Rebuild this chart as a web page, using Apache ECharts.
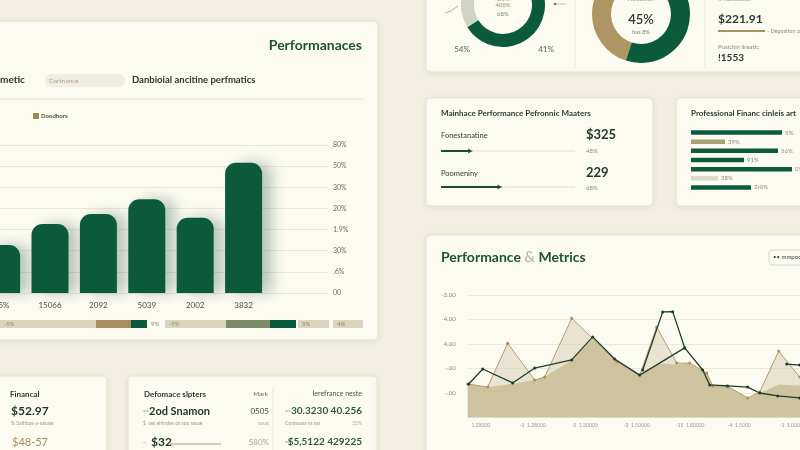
<!DOCTYPE html>
<html><head><meta charset="utf-8">
<script src="https://cdn.jsdelivr.net/npm/echarts@6/dist/echarts.min.js"></script>
<style>html,body{margin:0;padding:0;background:#f3f0e2}#c{width:800px;height:450px}</style>
</head><body><div id="c"></div>
<script>
// ---- column chart (left card)
const barCategories = ['05%', '15066', '2092', '5039', '2002', '3832'];
const barValues = [2.27, 3.26, 3.74, 4.43, 3.56, 6.16];
const barAxisLabels = ['00', '.6%', '30%', '1.9%', '20%', '30%', '50%', '80%'];
// ---- strip under the column chart
const stripValues = [96, 35, 16, 18, 61, 44, 26, 2, 31, 4, 30];
const stripLabels = ['-5%', '', '', '9%', '-9%', '', '', '', '5%', '', '4%'];
// ---- donuts
const donutA = [30, 70];
const donutB = [45, 55];
// ---- horizontal bars
const hbarValues = [91, 34, 87, 53, 101, 27, 60];
const hbarLabels = ['5%', '39%', '56%', '91%', '0%', '38%', '2r0%'];
// ---- progress rows
const progressValues = [22, 44];
// ---- line / area chart
const peakSeries = [[0,1.37],[2.0,1.24],[4.0,3.03],[6.7,1.53],[7.7,1.65],[10.4,4.05],[14.9,2.28],[17.2,1.73],[18.9,3.69],[20.9,2.22],[22.2,2.22],[23.9,1.82],[24.5,1.29],[25.9,1.29],[28.0,0.80],[29.2,1.04],[31.1,2.71],[33.2,1.65],[36.2,1.2]];
const baseSeries = [[0,1.37],[2.0,1.24],[4.5,1.38],[6.7,1.53],[7.7,1.65],[10.4,2.35],[12.5,3.2],[14.7,2.39],[17.2,1.73],[19.3,2.2],[20.9,2.15],[22.2,2.2],[23.9,1.82],[24.5,1.29],[25.9,1.29],[28.0,0.80],[29.2,1.0],[31.1,1.35],[33.2,1.3],[36.2,1.2]];
const trendSeries = [[0.1,1.37],[1.5,1.98],[4.5,1.41],[6.7,2.02],[10.4,2.35],[12.5,3.29],[14.7,2.39],[17.2,1.73],[21.7,2.84],[23.5,1.94],[24.2,1.33],[26.0,1.29],[28.0,1.24],[29.2,1.0],[31.0,0.88],[33.2,0.80],[36.2,0.7]];
const spikeSeries = [[17.5,1.94],[19.5,4.31],[20.5,4.32],[21.7,2.84]];
const tailSeries = [[31.9,2.18],[33.2,2.14],[36.2,2.1]];
const lineYLabels = ['', '-.00', '-.00', '4.00', '-4.00', '-3.00'];
const lineXLabels = ['   1.28000', '-1  1.28000', '-5  1.50000', '-3  1.50000', '-15  1.80000', '-4  1.5000', '-1  1.0000'];

const GREEN = '#0c5a3c', FONT = 'Lato';
const stripColors = ['#dcd5bd', '#a88f5e', GREEN, 'rgba(0,0,0,0)', '#dcd5bd', '#7b8b6a', GREEN, 'rgba(0,0,0,0)', '#dcd5bd', 'rgba(0,0,0,0)', '#dcd5bd'];
const hbarColors = [GREEN, '#aaa070', GREEN, GREEN, GREEN, '#dcdac4', GREEN];

function card(x, y, w, h) {
  return { type: 'rect', shape: { x, y, width: w, height: h, r: 4 }, z: -5,
    style: { fill: '#fbfbf2', stroke: '#e6e3d3', lineWidth: 1, shadowBlur: 6, shadowColor: 'rgba(90,80,40,0.08)', shadowOffsetY: 1 } };
}
function T(x, y, text, size, weight, color, align, extra) {
  return Object.assign({ type: 'text', x, y, z: 10,
    style: Object.assign({ text, fontSize: size, fontWeight: weight, fontFamily: FONT, fill: color, align: align || 'left', verticalAlign: 'middle' }, extra || {}) });
}
function L(x1, y1, x2, y2, color, w) {
  return { type: 'line', z: 5, shape: { x1, y1, x2, y2 }, style: { stroke: color, lineWidth: w || 1 } };
}

const graphics = [
  card(-10, 21, 388, 319), card(426, -10, 400, 82), card(426, 98, 227, 108), card(676, 98, 150, 108),
  card(426, 235, 400, 230), card(-10, 376, 117, 90), card(128, 376, 249, 90),
  // left card
  T(362, 45, 'Performanaces', 14, 'bold', '#1e5238', 'right'),
  T(0, 80, 'metic', 10, 'bold', '#2b3a30'),
  { type: 'rect', z: 6, shape: { x: 45, y: 74, width: 80, height: 13, r: 6 }, style: { fill: '#f1ede0' } },
  T(49, 80.5, 'Dartnance', 6.5, 'normal', '#a8a293'),
  T(132, 80, 'Danbioial ancitine perfmatics', 9.5, 'bold', '#2b3a30'),
  L(0, 99, 363, 99, '#e9e6d6'),
  { type: 'rect', z: 6, shape: { x: 33, y: 113, width: 6, height: 6 }, style: { fill: '#9d8750' } },
  T(41, 116.5, 'Doodhors', 6, 'bold', '#4b5849'),
  // donut card
  T(503, -1, '1.5%', 6, 'normal', '#9a9a8e', 'center'),
  T(503, 5, '408%', 6, 'normal', '#a98f62', 'center'),
  T(503, 14, '68%', 6, 'normal', '#7c8a76', 'center'),
  T(462, 49, '54%', 8, 'normal', '#58675a', 'center'),
  T(546, 49, '41%', 8, 'normal', '#58675a', 'center'),
  { type: 'bezierCurve', z: 5, shape: { x1: 445, y1: 13, x2: 458, y2: 6, cpx1: 451, cpy1: 12 }, style: { stroke: '#b39a6c', lineWidth: 0.8, fill: null } },
  L(556, 4, 566, 4, '#cdbfa0'),
  { type: 'circle', z: 6, shape: { cx: 555, cy: 4, r: 1.3 }, style: { fill: '#8c6b3a' } },
  L(575, 0, 575, 68, '#ebe8da'), L(705, 0, 705, 68, '#ebe8da'),
  T(641, -1, 'Nesaation', 6, 'normal', '#9a9a8e', 'center'),
  T(641, 20, '45%', 13, '600', '#2b3a30', 'center'),
  T(641, 32, 'hus 8%', 5.5, 'normal', '#7a8070', 'center'),
  T(718, -1, 'Ir Noecosion', 6, 'normal', '#9a9a8e'),
  T(718, 19, '$221.91', 12, 'bold', '#2b3a30'),
  L(718, 31, 765, 31, '#a89060', 2),
  T(767, 31.5, '- Depositon on', 5.5, 'normal', '#8a8a7a'),
  T(718, 47, 'Pusichin lireatic', 6, 'normal', '#8a8a7a'),
  T(718, 58, '!1553', 10, 'bold', '#2b3a30'),
  // progress card
  T(441, 113, 'Mainhace Performance Pefronnic Maaters', 8, 'bold', '#2f3d33'),
  T(441, 136, 'Fonestanatine', 7.5, 'normal', '#2f3d33'),
  T(586, 135, '$325', 13, 'bold', '#23382b'),
  T(586, 151, '48%', 6, 'normal', '#8a8a7a'),
  T(441, 174, 'Poomeniny', 7.5, 'normal', '#2f3d33'),
  T(586, 173, '229', 13, 'bold', '#23382b'),
  T(586, 188, '68%', 6, 'normal', '#8a8a7a'),
  // hbar card
  T(691, 113, 'Professional Financ cinleis art', 8, 'bold', '#2f3d33'),
  // line card
  T(441, 257, '{a|Performance }{b|&}{a| Metrics}', 14, 'bold', '#1e5238', 'left', {
    rich: { a: { fontSize: 14, fontWeight: 'bold', fontFamily: FONT, fill: '#1e5238' },
            b: { fontSize: 15, fontWeight: 'normal', fontFamily: FONT, fill: '#aab5a8' } } }),
  { type: 'rect', z: 6, shape: { x: 769, y: 250, width: 40, height: 15, r: 3 }, style: { fill: '#fbfbf3', stroke: '#d9d6c6' } },
  T(773, 257.5, '•• mmpoo', 6, 'normal', '#3a4a3e'),
  // bottom-left cards
  T(10, 394, 'Financal', 8, 'bold', '#2f3d33'),
  T(11, 411, '$52.97', 12, 'bold', '#23382b'),
  T(11, 423, '% Sathbas-a-sasase', 5, 'normal', '#9a9a8e'),
  T(12, 442, '$48-57', 11, 'normal', '#a89060'),
  T(144, 394, 'Defomace slpters', 8, 'bold', '#2f3d33'),
  T(268, 394, 'Mark', 6.5, 'normal', '#6a6a60', 'right'),
  L(273, 387, 273, 455, '#ebe8da'),
  T(143, 411, '==', 5, 'normal', '#9a9a8e'),
  T(149, 411, '2od Snamon', 11, 'bold', '#23382b'),
  T(269, 411, '0505', 8, 'normal', '#3a4a3e', 'right'),
  T(143, 423, '$  ses ehtvdes os soo sssae', 5, 'normal', '#9a9a8e'),
  T(269, 423, 'sssas', 5, 'normal', '#b0b0a4', 'right'),
  T(143, 442, '--', 5, 'normal', '#9a9a8e'),
  T(151, 442, '$32', 12, 'bold', '#23382b'),
  L(170, 444, 221, 444, '#c8bc9a', 1.5),
  T(269, 442, '580%', 8, 'normal', '#a8a898', 'right'),
  T(362, 394, 'Ierefrance neste', 7, 'normal', '#4a5a4e', 'right'),
  T(285, 411, '==', 5, 'normal', '#9a9a8e'),
  T(362, 411, '30.3230 40.256', 10, 'bold', '#2c5a3e', 'right'),
  T(285, 423, 'Comssass-ss sss', 5, 'normal', '#9a9a8e'),
  T(362, 423, '33%', 5, 'normal', '#b0b0a4', 'right'),
  T(285, 442, '==', 5, 'normal', '#9a9a8e'),
  T(362, 442, '$5,5122 429225', 10, 'bold', '#2c5a3e', 'right')
];

const hidden = { show: false };
const G = o => Object.assign({ outerBoundsMode: 'none', containLabel: false }, o);
const option = {
  backgroundColor: '#f3f0e2',
  animation: false,
  textStyle: { fontFamily: FONT },
  graphic: { elements: graphics },
  grid: [
    G({ left: 0, top: 145, width: 328, height: 148 }),
    G({ left: 1.6, top: 145, width: 242, height: 148 }),
    G({ left: 0, top: 320, width: 363, height: 8 }),
    G({ left: 441, top: 133, width: 134, height: 72 }),
    G({ left: 691, top: 128, width: 110, height: 64 }),
    G({ left: 467.7, top: 295, width: 362, height: 122.5 })
  ],
  xAxis: [
    { gridIndex: 0, type: 'category', data: [''], show: false },
    { gridIndex: 1, type: 'category', data: barCategories, boundaryGap: false, axisLine: hidden, axisTick: hidden,
      axisLabel: { fontSize: 8, color: '#4f4f48', margin: 8, fontFamily: FONT, interval: 0 } },
    { gridIndex: 2, type: 'value', min: 0, max: 363, show: false },
    { gridIndex: 3, type: 'value', min: 0, max: 100, show: false },
    { gridIndex: 4, type: 'value', min: 0, max: 110, show: false },
    { gridIndex: 5, type: 'value', min: 0, max: 36.2, interval: 5.2, axisLine: hidden, axisTick: hidden, splitLine: hidden,
      axisLabel: { fontSize: 5, color: '#9a9a8e', margin: 5, align: 'left', showMaxLabel: false,
        formatter: v => lineXLabels[Math.round(v / 5.2)] || '' } }
  ],
  yAxis: [
    { gridIndex: 0, type: 'value', min: 0, max: 7, interval: 1, position: 'right', axisLine: hidden, axisTick: hidden,
      splitLine: { lineStyle: { color: '#ebe8d9' } },
      axisLabel: { fontSize: 7, color: '#6e6e62', margin: 5, formatter: v => barAxisLabels[v] } },
    { gridIndex: 1, type: 'value', min: 0, max: 7, show: false },
    { gridIndex: 2, type: 'category', data: ['s'], show: false },
    { gridIndex: 3, type: 'category', data: ['a', 'b'], inverse: true, show: false },
    { gridIndex: 4, type: 'category', data: hbarValues.map((_, i) => 'r' + i), inverse: true, show: false },
    { gridIndex: 5, type: 'value', min: 0, max: 5, interval: 1, axisLine: hidden, axisTick: hidden,
      splitLine: { lineStyle: { color: '#ece9dc' } },
      axisLabel: { fontSize: 6, color: '#8c8c80', margin: 12, formatter: v => lineYLabels[v] } }
  ],
  series: [
    { type: 'bar', xAxisIndex: 1, yAxisIndex: 1, data: barValues, barWidth: 37, silent: true, clip: false,
      itemStyle: { color: GREEN, borderRadius: [11, 11, 0, 0], shadowColor: 'rgba(20,60,40,0.28)', shadowBlur: 14, shadowOffsetX: 10 } },
    ...stripValues.map((v, i) => ({
      type: 'bar', xAxisIndex: 2, yAxisIndex: 2, stack: 'strip', barWidth: 8, silent: true, data: [v],
      itemStyle: { color: stripColors[i] },
      label: { show: !!stripLabels[i], position: 'insideLeft', distance: 4, fontSize: 6, color: '#8a8670', formatter: () => stripLabels[i] }
    })),
    { type: 'pie', center: [503, 5], radius: [29, 42], startAngle: 212, silent: true, label: hidden, labelLine: hidden,
      data: donutA.map((v, i) => ({ value: v, itemStyle: { color: ['#cfd3c3', GREEN][i] } })) },
    { type: 'pie', center: [641, 14], radius: [30, 49], startAngle: 90, clockwise: false, silent: true, label: hidden, labelLine: hidden,
      data: donutB.map((v, i) => ({ value: v, itemStyle: { color: ['#ad9663', GREEN][i] } })) },
    { type: 'bar', xAxisIndex: 3, yAxisIndex: 3, data: progressValues, barWidth: 2, silent: true,
      itemStyle: { color: '#1d4a33' }, showBackground: true, backgroundStyle: { color: '#efece1' } },
    { type: 'scatter', xAxisIndex: 3, yAxisIndex: 3, data: progressValues.map((v, i) => [v, i]), symbol: 'triangle',
      symbolRotate: -90, symbolSize: 5, silent: true, itemStyle: { color: '#1d4a33' } },
    { type: 'bar', xAxisIndex: 4, yAxisIndex: 4, barWidth: 4.5, silent: true,
      data: hbarValues.map((v, i) => ({ value: v, itemStyle: { color: hbarColors[i] } })),
      label: { show: true, position: 'right', distance: 3, fontSize: 6, color: '#8a8a7a', formatter: p => hbarLabels[p.dataIndex] } },
    { type: 'line', xAxisIndex: 5, yAxisIndex: 5, data: baseSeries, symbol: 'none', silent: true, z: 1,
      lineStyle: { width: 0 }, areaStyle: { color: '#cfc5a3', opacity: 1 } },
    { type: 'line', xAxisIndex: 5, yAxisIndex: 5, data: peakSeries, symbol: 'circle', symbolSize: 3, silent: true, z: 2,
      lineStyle: { color: '#b39a6c', width: 1 }, itemStyle: { color: '#b08d55' },
      areaStyle: { color: 'rgba(205,193,155,0.55)' } },
    { type: 'line', xAxisIndex: 5, yAxisIndex: 5, data: trendSeries, symbol: 'circle', symbolSize: 3, silent: true, z: 4,
      lineStyle: { color: '#1f3d2c', width: 1.3 }, itemStyle: { color: '#1f3d2c' } },
    { type: 'line', xAxisIndex: 5, yAxisIndex: 5, data: spikeSeries, symbol: 'circle', symbolSize: 3, silent: true, z: 4,
      lineStyle: { color: '#1f3d2c', width: 1.3 }, itemStyle: { color: '#1f3d2c' } },
    { type: 'line', xAxisIndex: 5, yAxisIndex: 5, data: tailSeries, symbol: 'circle', symbolSize: 3, silent: true, z: 4,
      lineStyle: { color: '#1f3d2c', width: 1.3 }, itemStyle: { color: '#1f3d2c' } }
  ]
};
const chart = echarts.init(document.getElementById('c'), null, { renderer: 'canvas' });
chart.setOption(option);
</script></body></html>
